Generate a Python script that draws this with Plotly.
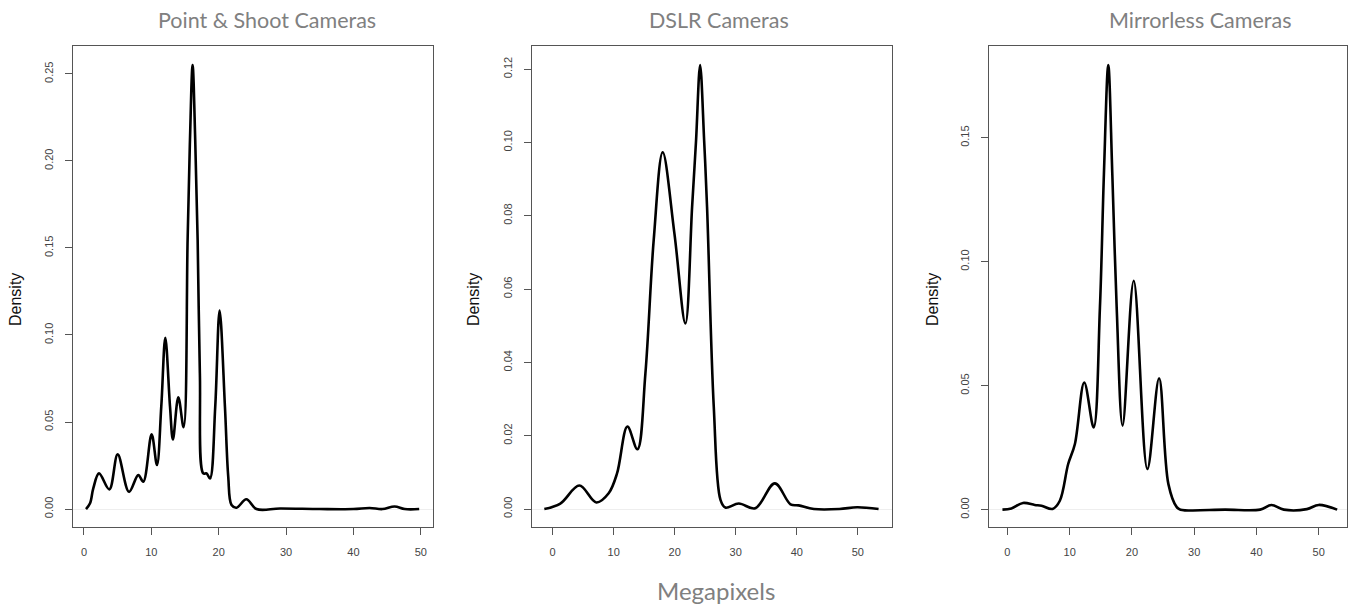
import plotly.graph_objects as go

# ---- data (Megapixels vs Density) ----
ps_x = [0.3, 0.9, 1.38, 2.23, 3.76, 5.0, 6.68, 8.06, 8.8, 10.04, 10.83, 11.47, 12.07, 12.77,
        13.2, 14.0, 14.79, 15.38, 15.73, 16.12, 16.51, 16.87, 17.2, 17.7, 18.2, 18.7, 19.48,
        20.13, 20.92, 21.41, 21.9, 22.65, 24.1, 25.6, 29.1, 35.0, 40.0, 42.4, 44.3, 46.1, 47.6, 49.75]
ps_y = [0.0, 0.0033, 0.0119, 0.0205, 0.0113, 0.0314, 0.0099, 0.0195, 0.0157, 0.0429, 0.0253,
        0.0588, 0.0984, 0.0588, 0.040, 0.0642, 0.047, 0.1546, 0.212, 0.255, 0.212, 0.1546, 0.078,
        0.0205, 0.0205, 0.0176, 0.0588, 0.114, 0.0588, 0.0187, 0.0023, 0.0008, 0.0056, 0.0,
        0.0003, 0.0, 0.0, 0.0006, 0.0, 0.0015, 0.0, 0.0]

dslr_x = [-1.36, 1.26, 4.38, 7.16, 9.18, 10.55, 12.25, 13.89, 15.2, 16.56, 18.03, 19.95, 21.75,
          22.85, 23.5, 24.16, 24.82, 25.3, 26.4, 27.5, 28.3, 30.5, 33.2, 36.4, 38.97, 40.3,
          42.8, 47.0, 49.9, 53.4]
dslr_y = [0.0, 0.0015, 0.0064, 0.0018, 0.0043, 0.0097, 0.0225, 0.0163, 0.037, 0.0734, 0.0973,
          0.0752, 0.0506, 0.0824, 0.1006, 0.1211, 0.1006, 0.0824, 0.0279, 0.0025, 0.0004,
          0.0015, 0.0002, 0.0070, 0.0013, 0.001, 0.0, 0.0, 0.0005, 0.0]

ml_x = [-0.8, 0.64, 2.5, 4.4, 5.47, 7.25, 8.42, 9.76, 10.84, 12.34, 13.85, 14.86, 15.5, 16.2,
        16.85, 17.55, 18.5, 20.29, 22.48, 24.36, 25.86, 27.2, 27.8, 35.0, 40.6, 42.4, 44.4,
        48.1, 50.0, 52.97]
ml_y = [0.0, 0.0005, 0.0027, 0.0019, 0.0016, 0.0003, 0.0036, 0.0184, 0.0265, 0.0513, 0.0332,
        0.0816, 0.1353, 0.1793, 0.1353, 0.0816, 0.0339, 0.0923, 0.0164, 0.053, 0.0103, 0.001,
        0.0, 0.0, 0.0, 0.0019, 0.0, 0.0002, 0.0019, 0.0]

titles = ["Point & Shoot Cameras", "DSLR Cameras", "Mirrorless Cameras"]
x_ticks = [0, 10, 20, 30, 40, 50]
y_ticks = [[0.0, 0.05, 0.10, 0.15, 0.20, 0.25],
           [0.0, 0.02, 0.04, 0.06, 0.08, 0.10, 0.12],
           [0.0, 0.05, 0.10, 0.15]]
y_title = "Density"
x_title = "Megapixels"

W, H = 1349, 605
series = [(ps_x, ps_y), (dslr_x, dslr_y), (ml_x, ml_y)]
boxes_px = [(73, 433), (532, 892), (989, 1347)]
x_ranges = [[-1.63, 51.8], [-3.38, 55.6], [-2.96, 54.55]]
y_ranges = [[-0.0103, 0.266], [-0.0049, 0.1263], [-0.007, 0.187]]
ydom = [1 - 527 / H, 1 - 46 / H]

fig = go.Figure()
layout = dict(width=W, height=H, margin=dict(l=0, r=0, t=0, b=0),
              paper_bgcolor="white", plot_bgcolor="white", showlegend=False)

tickfont = dict(family="Liberation Sans, Arial, sans-serif", size=11, color="#444")
for i, (sx, sy) in enumerate(series):
    k = "" if i == 0 else str(i + 1)
    fig.add_trace(go.Scatter(x=sx, y=sy, mode="lines", xaxis="x" + k, yaxis="y" + k,
                             line=dict(color="black", width=2.6, shape="spline", smoothing=1.0),
                             hoverinfo="skip"))
    x0, x1 = boxes_px[i]
    layout["xaxis" + k] = dict(domain=[x0 / W, x1 / W], anchor="y" + k, range=x_ranges[i],
                               tickvals=x_ticks, ticks="outside", ticklen=7, tickwidth=1,
                               tickcolor="#555", showline=True, linecolor="#555", linewidth=1,
                               mirror=True, showgrid=False, zeroline=False, tickfont=tickfont,
                               ticklabelstandoff=8)
    yt = y_ticks[i]
    layout["yaxis" + k] = dict(domain=ydom, anchor="x" + k, range=y_ranges[i],
                               tickvals=yt, ticktext=[f"{v:.2f}" for v in yt],
                               ticks="outside", ticklen=7, tickwidth=1, tickcolor="#555",
                               showline=True, linecolor="#555", linewidth=1, mirror=True,
                               showgrid=False, zeroline=True, zerolinecolor="#eeeeee",
                               zerolinewidth=1, tickangle=-90, tickfont=tickfont,
                               ticklabelstandoff=8)

annotations = []
title_cx = [267, 719, 1200]
for i, t in enumerate(titles):
    annotations.append(dict(text=t, x=title_cx[i] / W, y=1 - 20 / H, xref="paper", yref="paper",
                            xanchor="center", yanchor="middle", showarrow=False,
                            font=dict(family="Lato, Open Sans, sans-serif", size=21.5,
                                      color="#808080")))
dens_x = [15, 473, 932]
for i in range(3):
    annotations.append(dict(text=y_title, x=dens_x[i] / W, y=1 - 300 / H, xref="paper",
                            yref="paper", xanchor="center", yanchor="middle", showarrow=False,
                            textangle=-90,
                            font=dict(family="Liberation Sans, Arial, sans-serif", size=16,
                                      color="#111")))
annotations.append(dict(text=x_title, x=716 / W, y=1 - 590 / H, xref="paper", yref="paper",
                        xanchor="center", yanchor="middle", showarrow=False,
                        font=dict(family="Lato, Open Sans, sans-serif", size=24,
                                  color="#808080")))
layout["annotations"] = annotations
fig.update_layout(**layout)
fig.write_html("out.html")
